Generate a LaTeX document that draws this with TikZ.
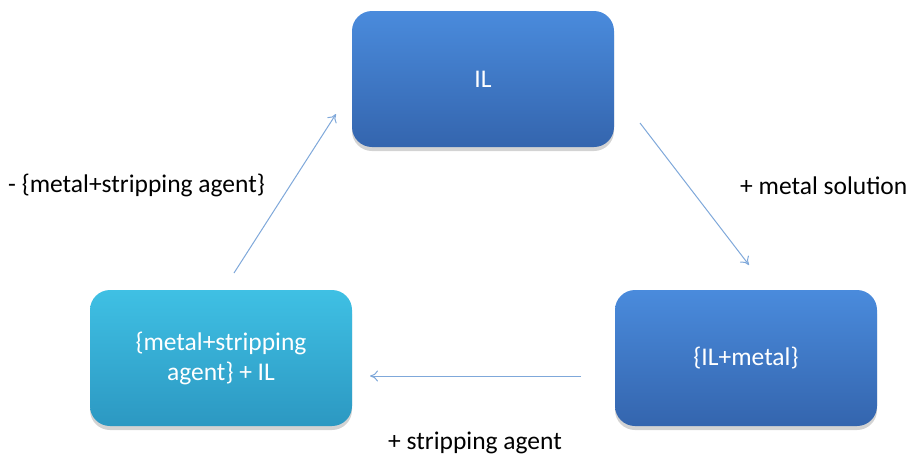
\documentclass[tikz,border=0pt]{standalone}
\usepackage{fontspec}
\setmainfont{Carlito}
\usetikzlibrary{shadows,arrows.meta}
\definecolor{bluetop}{HTML}{4A8BDC}
\definecolor{bluebot}{HTML}{3465AE}
\definecolor{cyantop}{HTML}{3FC0E4}
\definecolor{cyanbot}{HTML}{2C98C2}
\definecolor{arrowcol}{HTML}{7FA8DA}
\tikzset{
  box/.style={rounded corners=20pt, minimum width=262pt, minimum height=136pt,
    draw=none, align=center, text=white, font=\fontsize{25.5}{30}\selectfont,
    drop shadow={shadow xshift=0pt, shadow yshift=-4pt, opacity=0.35}},
  bluebox/.style={box, top color=bluetop, bottom color=bluebot},
  cyanbox/.style={box, top color=cyantop, bottom color=cyanbot},
  conn/.style={draw=arrowcol, line width=1pt, -{To[length=8pt,width=11pt]}},
  lbl/.style={font=\fontsize{25.5}{30}\selectfont, text=black, inner sep=0pt}
}
\begin{document}
\begin{tikzpicture}[x=1pt,y=-1pt]
\useasboundingbox (0,0) rectangle (909,458);
\node[bluebox] (il) at (483,79) {IL};
\node[cyanbox] (strip) at (221,358) {\{metal+stripping\\agent\} + IL};
\node[bluebox] (ilm) at (746,358) {\{IL+metal\}};
\coordinate (a1s) at (234,273);
\coordinate (a1e) at (336,114);
\coordinate (a2s) at (640,123);
\coordinate (a2e) at (749,265);
\coordinate (a3s) at (581,376);
\coordinate (a3e) at (370,376);
\draw[conn] (a1s) -- (a1e);
\draw[conn] (a2s) -- (a2e);
\draw[conn] (a3s) -- (a3e);
\node[lbl, anchor=west] (l1) at (8,185) {- \{metal+stripping agent\}};
\node[lbl, anchor=west] (l2) at (740,186) {+ metal solution};
\node[lbl, anchor=west] (l3) at (388,443) {+ stripping agent};
\end{tikzpicture}
\end{document}
